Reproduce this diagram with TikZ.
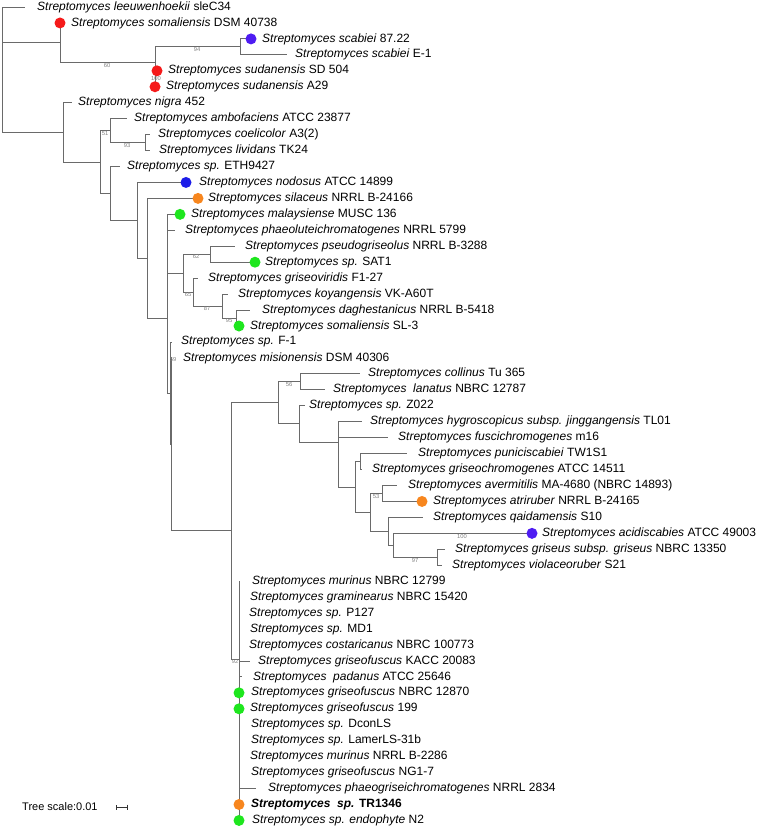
\documentclass[tikz,border=0pt]{standalone}
\usepackage{fontspec}
\setmainfont{Liberation Sans}
\usepackage{xcolor}
\usetikzlibrary{arrows.meta}

\definecolor{dotred}{HTML}{F51A1A}
\definecolor{dotviolet}{HTML}{4E1CF2}
\definecolor{dotblue}{HTML}{1C1CE8}
\definecolor{dotorange}{HTML}{F7861E}
\definecolor{dotgreen}{HTML}{1EE61E}
\definecolor{branchgray}{HTML}{6A6A6A}

\begin{document}
\begin{tikzpicture}[
  x=1pt, y=-1pt,
  br/.style={draw=branchgray, line width=0.9pt},
  lbl/.style={anchor=west, inner sep=0pt, font=\fontsize{12}{14}\selectfont},
  bs/.style={anchor=north, inner sep=0pt, text=gray, font=\fontsize{5.8}{6}\selectfont},
  dot/.style={circle, inner sep=0pt, minimum size=11pt}
]
\useasboundingbox (0,0) rectangle (758,827);

% leaf tips
\coordinate (t1) at (25,7.0);
\coordinate (t2) at (60,22.95);
\coordinate (t3) at (251,38.9);
\coordinate (t4) at (287,54.85);
\coordinate (t5) at (157,70.8);
\coordinate (t6) at (155,86.75);
\coordinate (t7) at (72,102.7);
\coordinate (t8) at (127,118.65);
\coordinate (t9) at (150,134.6);
\coordinate (t10) at (150,150.55);
\coordinate (t11) at (120,166.5);
\coordinate (t12) at (186,182.45);
\coordinate (t13) at (198,198.4);
\coordinate (t14) at (180,214.35);
\coordinate (t15) at (175,230.3);
\coordinate (t16) at (235,246.25);
\coordinate (t17) at (255,262.2);
\coordinate (t18) at (198,278.15);
\coordinate (t19) at (228,294.1);
\coordinate (t20) at (250,310.05);
\coordinate (t21) at (239,326.0);
\coordinate (t22) at (172,341.95);
\coordinate (t23) at (172,357.9);
\coordinate (t24) at (360,373.85);
\coordinate (t25) at (325,389.8);
\coordinate (t26) at (305,405.75);
\coordinate (t27) at (362,421.7);
\coordinate (t28) at (388,437.65);
\coordinate (t29) at (407,453.6);
\coordinate (t30) at (362,469.55);
\coordinate (t31) at (397,485.5);
\coordinate (t32) at (422,501.45);
\coordinate (t33) at (423,517.4);
\coordinate (t34) at (532,533.35);
\coordinate (t35) at (445,549.3);
\coordinate (t36) at (442,565.25);
\coordinate (t37) at (239,581.2);
\coordinate (t38) at (239,597.15);
\coordinate (t39) at (239,613.1);
\coordinate (t40) at (239,629.05);
\coordinate (t41) at (239,645.0);
\coordinate (t42) at (250,660.95);
\coordinate (t43) at (242,676.9);
\coordinate (t44) at (239,692.85);
\coordinate (t45) at (239,708.8);
\coordinate (t46) at (239,724.75);
\coordinate (t47) at (239,740.7);
\coordinate (t48) at (239,756.65);
\coordinate (t49) at (239,772.6);
\coordinate (t50) at (256,788.55);
\coordinate (t51) at (239,804.5);
\coordinate (t52) at (239,820.45);

% internal nodes
\coordinate (r0) at (2,69.7);
\coordinate (nA) at (60,42.9);
\coordinate (nC) at (155,62.85);
\coordinate (nD) at (240,46.9);
\coordinate (nE) at (155,78.8);
\coordinate (nB) at (63,132.4);
\coordinate (nF) at (100,162);
\coordinate (nG) at (110,130.6);
\coordinate (nI) at (145,142.6);
\coordinate (nH) at (110,193.5);
\coordinate (nJ) at (137,220.4);
\coordinate (nK) at (147,258.4);
\coordinate (nL2) at (167,318.5);
\coordinate (nL1) at (167,243.75);
\coordinate (nS) at (183,273.15);
\coordinate (nR) at (210,254.2);
\coordinate (nT) at (193,292.1);
\coordinate (nU) at (222,306.05);
\coordinate (nV) at (236,318.0);
\coordinate (nN) at (170,393.2);
\coordinate (nQ) at (171,444.4);
\coordinate (nP) at (231,530.9);
\coordinate (nP1) at (278,402.85);
\coordinate (nW) at (300,381.8);
\coordinate (nV2) at (299,423.9);
\coordinate (nX) at (338,442);
\coordinate (nX2) at (338,462.3);
\coordinate (nY) at (355,487);
\coordinate (nZ) at (360,461.6);
\coordinate (nY2) at (370,512.4);
\coordinate (nAE) at (382,493.5);
\coordinate (nAC) at (388,531.35);
\coordinate (nAB) at (393,545.3);
\coordinate (nAA) at (437,557.3);
\coordinate (nP2) at (239,659);

% branches
\draw[br] (r0) |- (t1) (r0) |- (nA) (r0) |- (nB);
\draw[br] (nA) |- (t2) (nA) |- (nC);
\draw[br] (nC) |- (nD) (nC) |- (nE);
\draw[br] (nD) |- (t3) (nD) |- (t4);
\draw[br] (nE) |- (t5) (nE) |- (t6);
\draw[br] (nB) |- (t7) (nB) |- (nF);
\draw[br] (nF) |- (nG) (nF) |- (nH);
\draw[br] (nG) |- (t8) (nG) |- (nI);
\draw[br] (nI) |- (t9) (nI) |- (t10);
\draw[br] (nH) |- (t11) (nH) |- (nJ);
\draw[br] (nJ) |- (t12) (nJ) |- (nK);
\draw[br] (nK) |- (t13) (nK) |- (nL2);
\draw[br] (nL2) |- (nL1) (nL2) |- (nN);
\draw[br] (nL1) |- (t14) (nL1) |- (t15) (nL1) |- (nS);
\draw[br] (nS) |- (nR) (nS) |- (nT);
\draw[br] (nR) |- (t16) (nR) |- (t17);
\draw[br] (nT) |- (t18) (nT) |- (nU);
\draw[br] (nU) |- (t19) (nU) |- (nV);
\draw[br] (nV) |- (t20) (nV) |- (t21);
\draw[br] (nN) |- (t22) (nN) |- (nQ);
\draw[br] (nQ) |- (t23) (nQ) |- (nP);
\draw[br] (nP) |- (nP1) (nP) |- (nP2);
\draw[br] (nP1) |- (nW) (nP1) |- (nV2);
\draw[br] (nW) |- (t24) (nW) |- (t25);
\draw[br] (nV2) |- (t26) (nV2) |- (nX);
\draw[br] (nX) |- (t27) (nX) |- (nX2);
\draw[br] (nX2) |- (t28) (nX2) |- (nY);
\draw[br] (nY) |- (nZ) (nY) |- (nY2);
\draw[br] (nZ) |- (t29) (nZ) |- (t30);
\draw[br] (nY2) |- (nAE) (nY2) |- (nAC);
\draw[br] (nAE) |- (t31) (nAE) |- (t32);
\draw[br] (nAC) |- (t33) (nAC) |- (nAB);
\draw[br] (nAB) |- (t34) (nAB) |- (nAA);
\draw[br] (nAA) |- (t35) (nAA) |- (t36);
\foreach \i in {37,...,52}
  \draw[br] (nP2) |- (t\i);

% support values
\node[bs] (s94) at (197,47.4) {94};
\node[bs] (s60) at (107,63.3) {60};
\node[bs, anchor=center] (s100a) at (156,79) {100};
\node[bs] (s51) at (105,131.1) {51};
\node[bs] (s93) at (127,143.1) {93};
\node[bs] (s62) at (196,254.7) {62};
\node[bs] (s65) at (188,292.6) {65};
\node[bs] (s87) at (207,306.5) {87};
\node[bs] (s95) at (229,318.5) {95};
\node[bs, anchor=center] (s59) at (173,359) {59};
\node[bs] (s56) at (289,382.3) {56};
\node[bs] (s53) at (376,494) {53};
\node[bs] (s100b) at (462,533.8) {100};
\node[bs] (s97) at (415,557.8) {97};
\node[bs] (s92) at (235,659.5) {92};

% coloured tips
\node[dot, fill=dotred] (d2) at (t2) {};
\node[dot, fill=dotviolet] (d3) at (t3) {};
\node[dot, fill=dotred] (d5) at (t5) {};
\node[dot, fill=dotred] (d6) at (t6) {};
\node[dot, fill=dotblue] (d12) at (t12) {};
\node[dot, fill=dotorange] (d13) at (t13) {};
\node[dot, fill=dotgreen] (d14) at (t14) {};
\node[dot, fill=dotgreen] (d17) at (t17) {};
\node[dot, fill=dotgreen] (d21) at (t21) {};
\node[dot, fill=dotorange] (d32) at (t32) {};
\node[dot, fill=dotviolet] (d34) at (t34) {};
\node[dot, fill=dotgreen] (d44) at (t44) {};
\node[dot, fill=dotgreen] (d45) at (t45) {};
\node[dot, fill=dotorange] (d51) at (t51) {};
\node[dot, fill=dotgreen] (d52) at (t52) {};

% leaf labels
\node[lbl] (l1) at (37,7.0) {\textit{Streptomyces leeuwenhoekii} sleC34};
\node[lbl] (l2) at (71,22.95) {\textit{Streptomyces somaliensis} DSM 40738};
\node[lbl] (l3) at (262,38.9) {\textit{Streptomyces scabiei} 87.22};
\node[lbl] (l4) at (295,54.85) {\textit{Streptomyces scabiei} E-1};
\node[lbl] (l5) at (168,70.8) {\textit{Streptomyces sudanensis} SD 504};
\node[lbl] (l6) at (166,86.75) {\textit{Streptomyces sudanensis} A29};
\node[lbl] (l7) at (78,102.7) {\textit{Streptomyces nigra} 452};
\node[lbl] (l8) at (134,118.65) {\textit{Streptomyces ambofaciens} ATCC 23877};
\node[lbl] (l9) at (158,134.6) {\textit{Streptomyces coelicolor} A3(2)};
\node[lbl] (l10) at (159,150.55) {\textit{Streptomyces lividans} TK24};
\node[lbl] (l11) at (127,166.5) {\textit{Streptomyces sp.} ETH9427};
\node[lbl] (l12) at (199,182.45) {\textit{Streptomyces nodosus} ATCC 14899};
\node[lbl] (l13) at (208,198.4) {\textit{Streptomyces silaceus} NRRL B-24166};
\node[lbl] (l14) at (191,214.35) {\textit{Streptomyces malaysiense} MUSC 136};
\node[lbl] (l15) at (185,230.3) {\textit{Streptomyces phaeoluteichromatogenes} NRRL 5799};
\node[lbl] (l16) at (245,246.25) {\textit{Streptomyces pseudogriseolus} NRRL B-3288};
\node[lbl] (l17) at (265,262.2) {\textit{Streptomyces sp.} SAT1};
\node[lbl] (l18) at (208,278.15) {\textit{Streptomyces griseoviridis} F1-27};
\node[lbl] (l19) at (238,294.1) {\textit{Streptomyces koyangensis} VK-A60T};
\node[lbl] (l20) at (262,310.05) {\textit{Streptomyces daghestanicus} NRRL B-5418};
\node[lbl] (l21) at (250,326.0) {\textit{Streptomyces somaliensis} SL-3};
\node[lbl] (l22) at (181,341.95) {\textit{Streptomyces sp.} F-1};
\node[lbl] (l23) at (183,357.9) {\textit{Streptomyces misionensis} DSM 40306};
\node[lbl] (l24) at (368,373.85) {\textit{Streptomyces collinus} Tu 365};
\node[lbl] (l25) at (333,389.8) {\textit{Streptomyces~~lanatus} NBRC 12787};
\node[lbl] (l26) at (309,405.75) {\textit{Streptomyces sp.} Z022};
\node[lbl] (l27) at (370,421.7) {\textit{Streptomyces hygroscopicus subsp. jinggangensis} TL01};
\node[lbl] (l28) at (398,437.65) {\textit{Streptomyces fuscichromogenes} m16};
\node[lbl] (l29) at (418,453.6) {\textit{Streptomyces puniciscabiei} TW1S1};
\node[lbl] (l30) at (372,469.55) {\textit{Streptomyces griseochromogenes} ATCC 14511};
\node[lbl] (l31) at (408,485.5) {\textit{Streptomyces avermitilis} MA-4680 (NBRC 14893)};
\node[lbl] (l32) at (433,501.45) {\textit{Streptomyces atriruber} NRRL B-24165};
\node[lbl] (l33) at (433,517.4) {\textit{Streptomyces qaidamensis} S10};
\node[lbl] (l34) at (542,533.35) {\textit{Streptomyces acidiscabies} ATCC 49003};
\node[lbl] (l35) at (455,549.3) {\textit{Streptomyces griseus subsp. griseus} NBRC 13350};
\node[lbl] (l36) at (452,565.25) {\textit{Streptomyces violaceoruber} S21};
\node[lbl] (l37) at (252,581.2) {\textit{Streptomyces murinus} NBRC 12799};
\node[lbl] (l38) at (250,597.15) {\textit{Streptomyces graminearus} NBRC 15420};
\node[lbl] (l39) at (249,613.1) {\textit{Streptomyces sp.} P127};
\node[lbl] (l40) at (250,629.05) {\textit{Streptomyces sp.} MD1};
\node[lbl] (l41) at (249,645.0) {\textit{Streptomyces costaricanus} NBRC 100773};
\node[lbl] (l42) at (258,660.95) {\textit{Streptomyces griseofuscus} KACC 20083};
\node[lbl] (l43) at (253,676.9) {\textit{Streptomyces~~padanus} ATCC 25646};
\node[lbl] (l44) at (251,692.85) {\textit{Streptomyces griseofuscus} NBRC 12870};
\node[lbl] (l45) at (250,708.8) {\textit{Streptomyces griseofuscus} 199};
\node[lbl] (l46) at (251,724.75) {\textit{Streptomyces sp.} DconLS};
\node[lbl] (l47) at (251,740.7) {\textit{Streptomyces sp.} LamerLS-31b};
\node[lbl] (l48) at (250,756.65) {\textit{Streptomyces murinus} NRRL B-2286};
\node[lbl] (l49) at (251,772.6) {\textit{Streptomyces griseofuscus} NG1-7};
\node[lbl] (l50) at (268,788.55) {\textit{Streptomyces phaeogriseichromatogenes} NRRL 2834};
\node[lbl] (l51) at (251,804.5) {\textbf{\textit{Streptomyces~~sp.} TR1346}};
\node[lbl] (l52) at (252,820.45) {\textit{Streptomyces sp. endophyte} N2};

% scale
\node[lbl, font=\fontsize{11}{13}\selectfont] (tsc) at (22,807) {Tree scale:0.01};
\coordinate (sb1) at (116,807);
\coordinate (sb2) at (128,807);
\draw[br, draw=black!80, line width=0.8pt, {Bar[width=5pt]}-{Bar[width=5pt]}] (sb1) -- (sb2);
\end{tikzpicture}
\end{document}
